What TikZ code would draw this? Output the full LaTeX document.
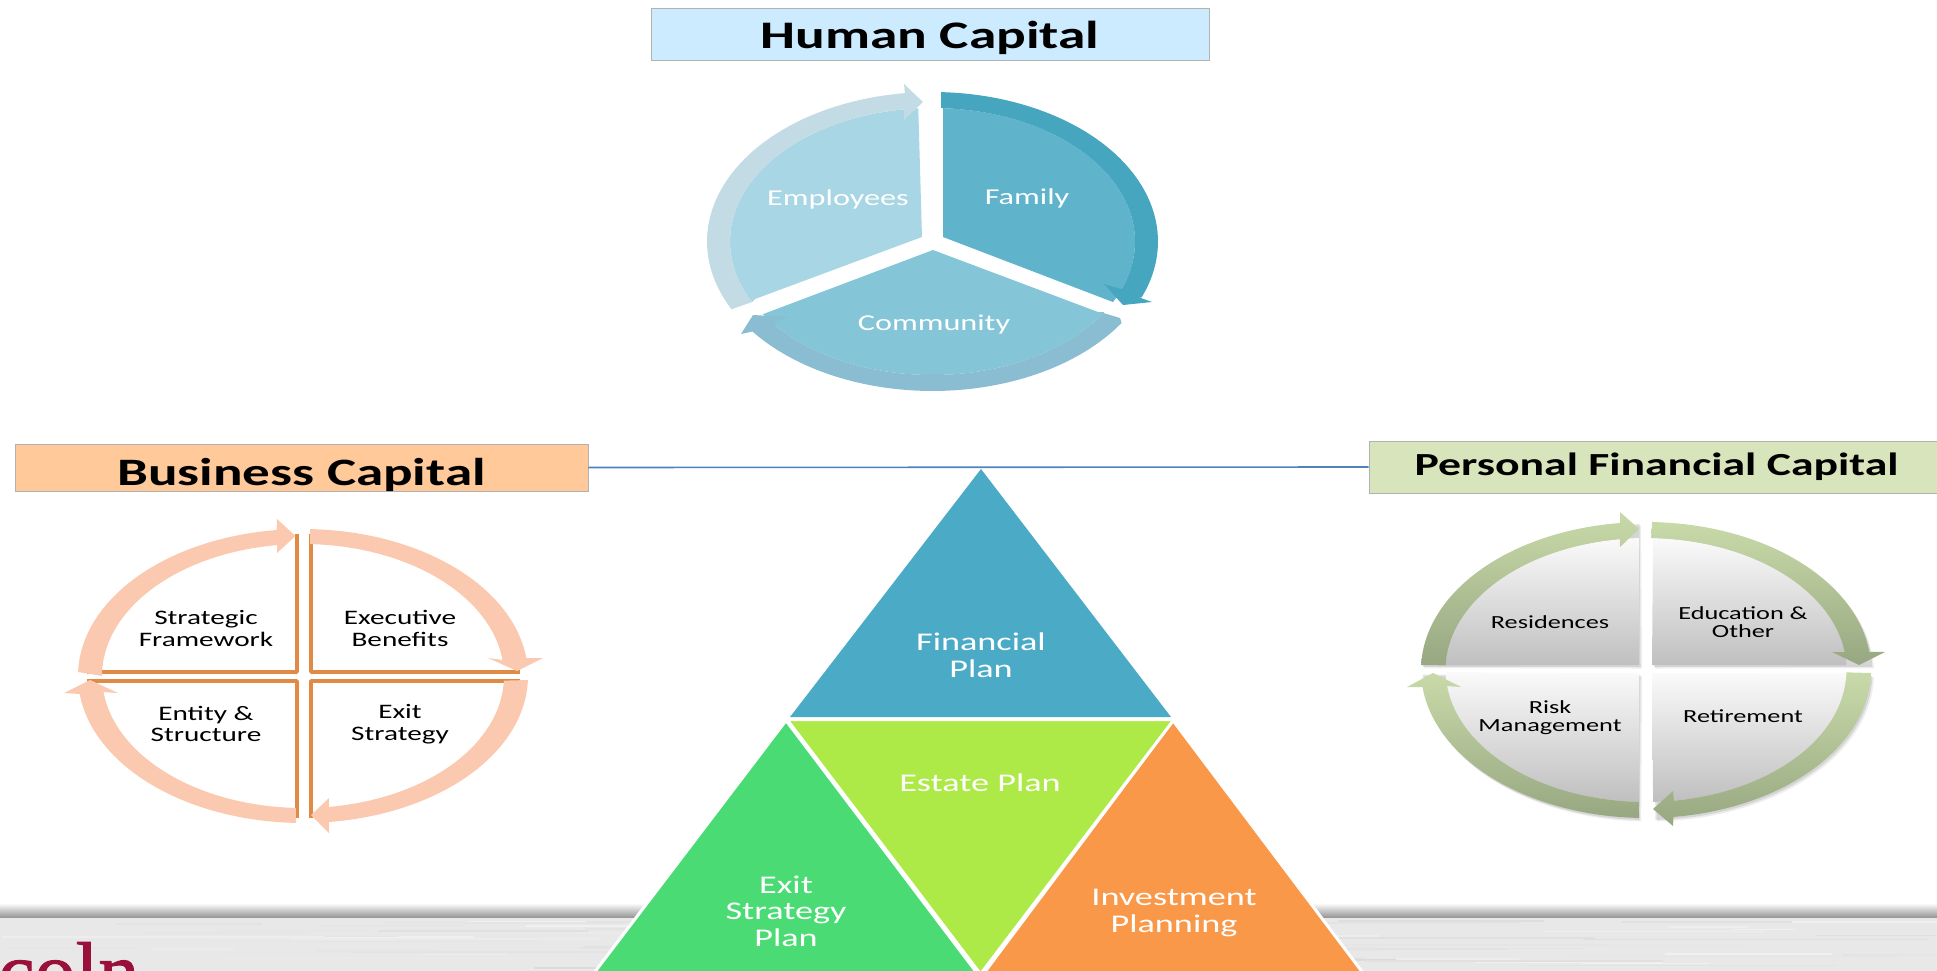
\documentclass[tikz,border=0pt]{standalone}
\usepackage{fontspec}
\setmainfont[FakeStretch=1.42]{Carlito}
\newfontfamily\logofont[FakeBold=1.2]{Liberation Serif}
\definecolor{fam}{HTML}{5FB4CC}\definecolor{famA}{HTML}{46A5BF}
\definecolor{com}{HTML}{84C5D7}\definecolor{comA}{HTML}{8ABDD2}
\definecolor{emp}{HTML}{A8D6E4}\definecolor{empA}{HTML}{C3DBE4}
\definecolor{bizA}{HTML}{FBC9B0}\definecolor{bizL}{HTML}{E08A45}
\definecolor{perL}{HTML}{C9DAA9}\definecolor{perD}{HTML}{97A781}
\definecolor{triB}{HTML}{4BABC6}\definecolor{triL}{HTML}{ADE947}
\definecolor{triG}{HTML}{4ADB75}\definecolor{triO}{HTML}{F89848}
\definecolor{logo}{HTML}{99103A}
\definecolor{humanbox}{RGB}{204,235,255}
\definecolor{bizbox}{RGB}{255,201,153}
\definecolor{persbox}{RGB}{216,228,188}
\definecolor{linkline}{RGB}{79,129,189}
\newcommand\earc[6]{-- plot[domain=0:1,samples=48,variable=\t] ({#1+#3*cos(#5+(#6-(#5))*\t)},{#2+#4*sin(#5+(#6-(#5))*\t)})}
\newcommand\PieO[2]{\earc{932.5}{241.5}{225.5}{149.5}{#1}{#2}}
\newcommand\PieI[2]{\earc{932.5}{241.5}{202.5}{133.5}{#1}{#2}}
\newcommand\BizO[2]{\earc{303}{676}{225}{147}{#1}{#2}}
\newcommand\BizI[2]{\earc{303}{676}{201}{132}{#1}{#2}}
\newcommand\FinO[2]{\earc{1646}{670}{225}{148}{#1}{#2}}
\newcommand\FinI[2]{\earc{1646}{670}{200.5}{132}{#1}{#2}}
\tikzset{
  title/.style={draw=black!30,line width=0.8pt,inner sep=0pt},
  wlabel/.style={text=white,align=center,inner sep=0pt},
  blabel/.style={text=black,align=center,inner sep=0pt,font=\fontsize{20.6}{21.6}\selectfont},
  flabel/.style={text=black,align=center,inner sep=0pt,font=\fontsize{18.5}{18}\selectfont},
  pielabel/.style={wlabel,font=\fontsize{22.7}{24}\selectfont},
  trilabel/.style={wlabel,font=\fontsize{25.5}{26.5}\selectfont},
  tri/.style={draw=white,line width=3pt,line join=miter},
  quad/.style={draw=bizL,line width=3.5pt,line join=round},
  farrow/.style={top color=perL,bottom color=perD},
  fquad/.style={top color=black!2,bottom color=black!25},
}
\begin{document}
\begin{tikzpicture}[x=1pt,y=-1pt]
\useasboundingbox (0,0) rectangle (1937,971);
\clip (0,0) rectangle (1937,971);
% footer band
\fill[black!9] (0,917) rectangle (1937,971);
\pgfmathsetseed{11}
\foreach \i in {1,...,90}{
  \pgfmathsetmacro\xa{rnd*1900}
  \pgfmathsetmacro\len{60+rnd*300}
  \pgfmathsetmacro\ya{921+rnd*48}
  \pgfmathsetmacro\sh{int(6+rnd*9)}
  \draw[line width=1.6pt,black!\sh] (\xa,\ya) -- (\xa+\len,\ya);
}
\shade[top color=white,bottom color=black!40] (0,903) rectangle (1937,917);
\node[anchor=base west,inner sep=0pt,text=logo,font=\logofont\fontsize{82}{82}\selectfont] (logotext) at (-2,999) {coln};
% titles
\node[title,fill=humanbox,minimum width=558pt,minimum height=52pt,font=\bfseries\fontsize{39}{40}\selectfont] (human) at (930,34) {\raisebox{-14.5pt}[0pt][0pt]{Human Capital}};
\node[title,fill=bizbox,minimum width=573pt,minimum height=47pt,font=\bfseries\fontsize{38.8}{40}\selectfont] (biz) at (301.5,467.5) {\raisebox{-17.5pt}[0pt][0pt]{Business Capital}};
\node[title,fill=persbox,minimum width=575pt,minimum height=52pt,font=\bfseries\fontsize{32.2}{36}\selectfont] (pers) at (1656.5,467) {\raisebox{-8pt}[0pt][0pt]{Personal Financial Capital}};
\draw[draw=linkline,line width=1.6pt] (biz.east) -- (pers.west);
% human capital pie
\fill[fam] (943,108) \PieI{-87}{27} -- (943,237) -- cycle;
\fill[com] (933,250) -- (1098,312) \PieI{32}{147} -- cycle;
\fill[emp] (922,237) -- (755,299) \PieI{153}{266} -- cycle;
\fill[famA] (941,92) -- (941,108) \PieI{-87}{21} -- (1104,284) -- (1123,305) -- (1152,302) -- (1138,297) \PieO{22}{-87.5} -- cycle;
\fill[comA] (1100,312) -- (1120,318) \PieO{33}{143} -- (741,334) -- (753,315) -- (788,317) -- (775,322) \PieI{141}{32} -- cycle;
\fill[empA] (735,308) \PieO{153}{263} -- (904,84) -- (923,102) -- (904,120) -- (904,110) \PieI{263}{153} -- cycle;
\node[pielabel] (employees) at (838,199.5) {Employees};
\node[pielabel] (family) at (1027,198.5) {Family};
\node[pielabel] (community) at (934,324.5) {Community};
% business capital
\draw[quad] (87,672) -- (297,672) -- (297,534);
\draw[quad] (311,534) -- (311,672) -- (520,672);
\draw[quad] (87,681) -- (297,681) -- (297,818);
\draw[quad] (520,681) -- (311,681) -- (311,818);
\fill[bizA] (78,672) \BizO{180}{263.3} -- (277,519) -- (295.5,536) -- (277,553) -- (277,544) \BizI{262.5}{180} -- cycle;
\fill[bizA] (310,529) \BizO{-88}{-7} -- (543,658) -- (517,671) -- (488,658) \BizI{-7}{-88} -- cycle;
\fill[bizA] (528,680) \BizO{2}{83.4} -- (329,833) -- (311,815) -- (329,798) \BizI{82.6}{2} -- cycle;
\fill[bizA] (296,823) \BizO{92}{173} -- (64,693) -- (90,680) -- (118,693) \BizI{173}{92} -- cycle;
\node[blabel] (strategic) at (206,628.5) {Strategic\\Framework};
\node[blabel] (executive) at (400,628.5) {Executive\\Benefits};
\node[blabel] (entity) at (206,724) {Entity \&\\Structure};
\node[blabel] (exits) at (400,724) {Exit\\Strategy};
% personal financial capital
\foreach \dx/\dy/\op in {1.5/2/.10,3/3.5/.07}{
  \begin{scope}[shift={(\dx,\dy)}]
  \fill[fill=black,opacity=\op] (1639,665) \FinO{182}{268} -- cycle;
  \fill[fill=black,opacity=\op] (1652,665) \FinO{-88}{-2} -- cycle;
  \fill[fill=black,opacity=\op] (1639,673) \FinO{92}{179} -- cycle;
  \fill[fill=black,opacity=\op] (1652,673) \FinO{1.5}{88} -- cycle;
  \end{scope}
}
\shade[fquad] (1639,665) \FinI{182}{268} -- cycle;
\shade[fquad] (1652,665) \FinI{-88}{-2} -- cycle;
\shade[fquad] (1639,673) \FinI{92}{179} -- cycle;
\shade[fquad] (1652,673) \FinI{1.5}{88} -- cycle;
\shade[farrow] (1421,665) \FinO{182}{263.4} -- (1620,512) -- (1639,529) -- (1620,547) \FinI{262.5}{182} -- cycle;
\shade[farrow] (1652,522) \FinO{-88.5}{-7} -- (1885,652) -- (1859,665) -- (1832,652) \FinI{-7.8}{-88.5} -- cycle;
\shade[farrow] (1871,673) \FinO{1}{83} -- (1673,826) -- (1653,809) -- (1673,791) \FinI{82}{1} -- cycle;
\shade[farrow] (1639,818) \FinO{92}{173.4} -- (1407,687) -- (1433,673) -- (1461,687) \FinI{173}{92} -- cycle;
\node[flabel] (residences) at (1550,622) {Residences};
\node[flabel] (education) at (1743,622) {Education \&\\Other};
\node[flabel] (risk) at (1550,718) {Risk\\Management};
\node[flabel] (retirement) at (1743,716) {Retirement};
% pyramid
\filldraw[tri,fill=triG] (786,720.5) -- (594,973) -- (977,973) -- cycle;
\filldraw[tri,fill=triO] (1173,720.5) -- (984,973) -- (1363,973) -- cycle;
\filldraw[tri,fill=triL] (787,719.5) -- (1174,719.5) -- (980.5,974) -- cycle;
\fill[triB] (981,469) -- (1171,717) -- (790,717) -- cycle;
\node[trilabel] (financial) at (981,655) {Financial\\Plan};
\node[trilabel] (estate) at (980,783) {Estate Plan};
\node[trilabel] (exitplan) at (786,911) {Exit\\Strategy\\Plan};
\node[trilabel] (invest) at (1174,913) {Investment\\Planning};
\end{tikzpicture}
\end{document}
